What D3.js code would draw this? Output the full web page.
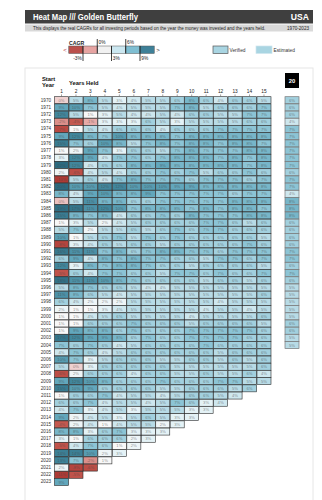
<!DOCTYPE html>
<html><head><meta charset="utf-8">
<script src="https://cdn.jsdelivr.net/npm/d3@7"></script>
<style>body{margin:0;background:#fff;font-family:"Liberation Sans",Arial,sans-serif}svg text{font-family:"Liberation Sans",Arial,sans-serif}</style>
</head><body><svg id="c" width="322" height="500"></svg>
<script>
const startYears = d3.range(1970, 2024);
const yearsHeld = [1,2,3,4,5,6,7,8,9,10,11,12,13,14,15];
const cagr = [
[0,5,8,5,3,4,5,5,6,8,6,4,6,6,5],
[9,10,7,5,4,5,5,5,7,8,5,6,6,6,7],
[12,5,1,3,5,4,4,5,4,6,6,5,5,7,7],
[-2,-4,-1,3,3,3,6,5,3,5,5,5,5,6,6],
[-7,1,5,4,6,6,6,4,6,6,6,7,7,7,7],
[9,12,8,7,10,8,8,8,7,8,8,8,8,8,8],
[15,7,6,10,8,5,7,8,7,8,8,7,8,8,7],
[1,2,9,7,3,6,6,5,7,8,7,7,7,8,8],
[3,12,9,4,7,7,6,7,8,8,8,7,8,7,8],
[22,12,4,6,6,8,8,9,8,8,8,8,8,7,8],
[2,-6,4,5,4,6,6,7,6,7,5,6,6,7,6],
[-10,5,6,4,7,8,7,7,7,6,7,7,7,6,7],
[20,10,10,12,12,10,10,10,9,9,8,8,8,8,8],
[8,4,9,10,8,8,9,7,7,7,7,7,6,7,7],
[-0.4,5,11,8,8,6,6,7,7,7,7,7,8,8,8],
[19,17,11,12,10,7,8,8,8,7,8,7,8,8,7],
[15,8,7,8,4,6,6,7,6,8,7,7,7,8,8],
[1,3,5,2,4,5,6,6,6,6,7,7,6,5,6],
[5,7,2,5,5,6,5,6,7,6,7,7,6,6,6],
[10,1,5,6,7,5,7,6,7,6,6,6,6,6,5],
[-8,3,4,6,5,6,6,5,6,6,6,6,6,7,6],
[16,11,11,7,8,6,7,8,8,7,7,6,7,7,7],
[6,9,4,8,7,8,7,7,6,6,5,7,7,6,7],
[12,3,8,7,8,8,7,6,6,5,6,6,6,6,5],
[-5,6,4,7,7,6,6,5,7,7,6,7,6,6,7],
[18,11,11,10,8,7,6,6,6,6,5,6,6,5,6],
[5,8,7,6,6,5,4,4,5,5,5,5,5,5,5],
[11,8,6,5,4,5,5,5,5,5,5,5,5,5,6],
[6,4,2,2,2,5,5,5,5,5,5,4,5,5,5],
[2,1,1,3,4,5,5,5,5,5,4,5,5,4,5],
[1,1,4,5,6,5,5,5,5,4,5,5,5,5,6],
[1,1,6,6,6,7,6,6,6,5,6,6,6,6,5],
[1,9,8,8,6,7,6,6,6,7,7,7,7,7,6],
[17,12,9,9,8,6,7,6,6,7,7,7,7,6,6],
[7,6,7,6,4,5,6,6,6,6,7,6,6,6,6],
[4,7,6,4,5,6,6,6,6,6,6,5,6,6,6],
[10,7,3,5,6,6,6,5,5,6,6,5,6,5,6],
[5,0,3,6,6,6,6,6,5,5,5,5,5,5,6],
[-6,2,6,6,6,4,6,6,5,5,6,5,5,6,4],
[9,12,10,8,6,6,6,7,6,6,6,7,7,5,5],
[15,10,9,6,6,6,6,5,5,6,6,6,5,6],
[1,6,6,7,4,5,5,4,5,6,6,5,4],
[6,6,7,4,5,5,4,5,7,6,3,4],
[4,7,3,4,5,3,5,5,5,3,3],
[9,2,4,5,3,5,6,5,3,3],
[-4,2,4,1,4,5,5,2,3],
[8,8,3,6,7,3,3,3],
[3,1,6,6,6,2,3],
[-5,4,7,6,1,2],
[14,14,10,2,3],
[13,7,-2,1],
[2,-8,-6],
[-11,-5],
[9]
];
const years20 = d3.range(1970, 2005);
const cagr20 = [6,6,6,4,7,7,7,7,7,7,6,7,7,4,8,8,8,6,6,6,6,7,7,6,7,6,5,5,5,5,5,6,6,5,5];
const legendTicksTop = [0, 6];
const legendTicksBottom = [-3, 3, 9];
const legendBins = [-6, -3, 0, 3, 6, 9, 12];
const legendColors = ["#ba504b", "#e6a4a2", "#f1f1f1", "#cbe7f0", "#7fbed2", "#3e8098"];

const svg = d3.select("#c");
const color = d3.scaleLinear()
  .domain([-10, -4, -1, 1, 3, 5, 7, 9, 12, 20])
  .range(["#ad3a35", "#c4584f", "#e6aaa8", "#f8f8f8", "#e4f2f6", "#b8dbe6", "#8cc4d5", "#62a7bc", "#41869c", "#2c6a80"])
  .clamp(true);
const fmt = v => String(Math.round(v)) + "%";

// panel
svg.append("rect").attr("x", 25).attr("y", 68).attr("width", 288).attr("height", 440)
  .attr("fill", "#fff").attr("stroke", "#e6e6e6").attr("stroke-width", 1);

// title bar
svg.append("rect").attr("x", 25).attr("y", 10).attr("width", 288).attr("height", 13.5).attr("fill", "#3f3f3f");
svg.append("text").attr("x", 33).attr("y", 20).attr("fill", "#fff").attr("font-size", 8.6).attr("font-weight", "bold")
  .attr("textLength", 105).attr("lengthAdjust", "spacingAndGlyphs").text("Heat Map /// Golden Butterfly");
svg.append("text").attr("x", 309).attr("y", 20).attr("text-anchor", "end").attr("fill", "#fff").attr("font-size", 8.6).attr("font-weight", "bold").text("USA");
svg.append("rect").attr("x", 25).attr("y", 24.5).attr("width", 288).attr("height", 7).attr("fill", "#d9d9d9");
svg.append("text").attr("x", 33).attr("y", 29.8).attr("fill", "#222").attr("font-size", 4.5).text("This displays the real CAGRs for all investing periods based on the year the money was invested and the years held.");
svg.append("text").attr("x", 309).attr("y", 29.8).attr("text-anchor", "end").attr("fill", "#222").attr("font-size", 4.6).text("1970-2023");

// legend
const lx = d3.scaleLinear().domain([-3, 9]).range([83, 140]);
const lg = svg.append("g");
lg.append("text").attr("x", 69).attr("y", 44.5).attr("font-size", 5.2).attr("font-weight", "bold").attr("fill", "#222").text("CAGR");
lg.selectAll("rect.bin").data(legendColors).join("rect").attr("class", "bin")
  .attr("x", (d, i) => lx(legendBins[i])).attr("y", 46)
  .attr("width", (d, i) => lx(legendBins[i + 1]) - lx(legendBins[i])).attr("height", 7.5)
  .attr("fill", d => d).attr("stroke", "#555").attr("stroke-width", 0.5);
lg.append("text").attr("x", 65).attr("y", 51.8).attr("font-size", 6).attr("fill", "#b33").attr("text-anchor", "middle").text("<");
lg.append("text").attr("x", 158).attr("y", 51.8).attr("font-size", 6).attr("fill", "#333").attr("text-anchor", "middle").text(">");
legendTicksTop.forEach(t => {
  lg.append("line").attr("x1", lx(t)).attr("x2", lx(t)).attr("y1", 39).attr("y2", 53.5).attr("stroke", "#111").attr("stroke-width", 0.8);
  lg.append("text").attr("x", lx(t) + 1.3).attr("y", 44).attr("font-size", 4.8).attr("fill", "#222").text(fmt(t));
});
legendTicksBottom.forEach(t => {
  lg.append("line").attr("x1", lx(t)).attr("x2", lx(t)).attr("y1", 46).attr("y2", 61).attr("stroke", "#111").attr("stroke-width", 0.8);
  lg.append("text").attr("x", t < 0 ? lx(t) - 1.3 : lx(t) + 1.3).attr("y", 59.5)
    .attr("text-anchor", t < 0 ? "end" : "start").attr("font-size", 4.8).attr("fill", "#222").text(fmt(t));
});
lg.append("rect").attr("x", 213).attr("y", 46).attr("width", 15).attr("height", 7.5).attr("fill", "#a9d5e2").attr("stroke", "#555").attr("stroke-width", 0.7);
lg.append("text").attr("x", 229.5).attr("y", 51.5).attr("font-size", 4.8).attr("fill", "#333").text("Verified");
lg.append("rect").attr("x", 256).attr("y", 46).attr("width", 16).attr("height", 7.5).attr("fill", "#a9d5e2").attr("stroke", "#cfe6ee").attr("stroke-width", 0.7);
lg.append("text").attr("x", 273.5).attr("y", 51.5).attr("font-size", 4.8).attr("fill", "#333").text("Estimated");

// headers
svg.append("text").attr("x", 42).attr("y", 80.5).attr("font-size", 5.8).attr("font-weight", "bold").attr("fill", "#111").text("Start");
svg.append("text").attr("x", 42).attr("y", 86.5).attr("font-size", 5.8).attr("font-weight", "bold").attr("fill", "#111").text("Year");
svg.append("text").attr("x", 69).attr("y", 84.5).attr("font-size", 5.8).attr("font-weight", "bold").attr("fill", "#111").text("Years Held");
svg.append("rect").attr("x", 285).attr("y", 73).attr("width", 14).attr("height", 15).attr("fill", "#000");
svg.append("text").attr("x", 292).attr("y", 82.8).attr("text-anchor", "middle").attr("font-size", 5.8).attr("font-weight", "bold").attr("fill", "#fff").text("20");

// scales
const x = d3.scaleBand().domain(yearsHeld).range([54.5, 271]).paddingInner(0.03);
const y = d3.scaleBand().domain(startYears).range([96.7, 485.5]).paddingInner(0.03);
const x20 = d3.scaleBand().domain([20]).range([285, 299]);

const xAxis = svg.append("g").attr("transform", "translate(0,96.2)")
  .call(d3.axisTop(x).tickSize(1.8).tickPadding(1));
xAxis.select(".domain").remove();
xAxis.selectAll("text").attr("font-size", 4.8).attr("fill", "#222").attr("font-family", "Liberation Sans, Arial");
xAxis.selectAll("line").attr("stroke", "#444").attr("stroke-width", 0.5);

const yAxis = svg.append("g").attr("transform", "translate(52.5,0)")
  .call(d3.axisLeft(y).tickSize(0).tickPadding(1.5).tickFormat(d3.format("d")));
yAxis.select(".domain").remove();
yAxis.selectAll("text").attr("font-size", 4.6).attr("fill", "#333").attr("font-family", "Liberation Sans, Arial");

// cells
const cells = [];
cagr.forEach((row, i) => row.forEach((v, j) => cells.push({year: startYears[i], held: yearsHeld[j], v})));
const g = svg.append("g");
g.selectAll("rect").data(cells).join("rect")
  .attr("x", d => x(d.held)).attr("y", d => y(d.year))
  .attr("width", x.bandwidth()).attr("height", y.bandwidth())
  .attr("fill", d => color(d.v)).attr("stroke", "#2a2a2a").attr("stroke-width", 0.6);
g.selectAll("text").data(cells).join("text")
  .attr("x", d => x(d.held) + x.bandwidth() / 2).attr("y", d => y(d.year) + y.bandwidth() / 2 + 1.5)
  .attr("text-anchor", "middle").attr("font-size", 4.2).attr("fill", "rgba(70,70,70,0.6)").text(d => fmt(d.v));

// 20-year column
const c20 = cagr20.map((v, i) => ({year: years20[i], v}));
const g2 = svg.append("g");
g2.selectAll("rect").data(c20).join("rect")
  .attr("x", x20(20)).attr("y", d => y(d.year))
  .attr("width", x20.bandwidth()).attr("height", y.bandwidth())
  .attr("fill", d => color(d.v)).attr("stroke", "#777").attr("stroke-width", 0.7);
g2.selectAll("text").data(c20).join("text")
  .attr("x", x20(20) + x20.bandwidth() / 2).attr("y", d => y(d.year) + y.bandwidth() / 2 + 1.5)
  .attr("text-anchor", "middle").attr("font-size", 4.2).attr("fill", "rgba(70,70,70,0.6)").text(d => fmt(d.v));
</script></body></html>
